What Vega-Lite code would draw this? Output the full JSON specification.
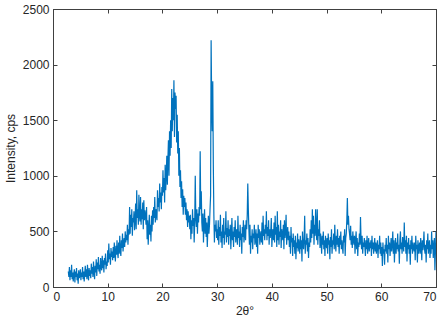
{
"$schema": "https://vega.github.io/schema/vega-lite/v6.json",
"width": 383, "height": 278,
"autosize": {"type": "none"},
"padding": {"left": 53, "top": 9, "right": 8, "bottom": 33},
"background": "white",
"config": {"view": {"stroke": "#404040", "strokeWidth": 1},
  "axis": {"labelFont": "Liberation Sans", "titleFont": "Liberation Sans", "labelFontSize": 12, "titleFontSize": 12, "titleFontWeight": "normal", "labelColor": "#262626", "titleColor": "#262626", "domainColor": "#404040", "tickColor": "#404040", "grid": false, "tickSize": -4, "format": "d"}},
"data": {"values": [
{"x":2.8,"y":140},{"x":2.9,"y":90},
{"x":3.0,"y":180},{"x":3.1,"y":60},{"x":3.2,"y":150},{"x":3.3,"y":90},{"x":3.4,"y":200},{"x":3.5,"y":70},{"x":3.6,"y":130},{"x":3.7,"y":50},{"x":3.8,"y":120},{"x":3.9,"y":160},
{"x":4.0,"y":40},{"x":4.1,"y":140},{"x":4.2,"y":90},{"x":4.3,"y":170},{"x":4.4,"y":60},{"x":4.5,"y":120},{"x":4.6,"y":30},{"x":4.7,"y":150},{"x":4.8,"y":80},{"x":4.9,"y":110},
{"x":5.0,"y":160},{"x":5.1,"y":60},{"x":5.2,"y":130},{"x":5.3,"y":90},{"x":5.4,"y":180},{"x":5.5,"y":70},{"x":5.6,"y":140},{"x":5.7,"y":50},{"x":5.8,"y":120},{"x":5.9,"y":190},
{"x":6.0,"y":90},{"x":6.1,"y":160},{"x":6.2,"y":70},{"x":6.3,"y":200},{"x":6.4,"y":110},{"x":6.5,"y":60},{"x":6.6,"y":170},{"x":6.7,"y":100},{"x":6.8,"y":150},{"x":6.9,"y":80},
{"x":7.0,"y":210},{"x":7.1,"y":120},{"x":7.2,"y":180},{"x":7.3,"y":90},{"x":7.4,"y":230},{"x":7.5,"y":140},{"x":7.6,"y":70},{"x":7.7,"y":190},{"x":7.8,"y":130},{"x":7.9,"y":250},
{"x":8.0,"y":100},{"x":8.1,"y":220},{"x":8.2,"y":160},{"x":8.3,"y":270},{"x":8.4,"y":140},{"x":8.5,"y":200},{"x":8.6,"y":120},{"x":8.7,"y":260},{"x":8.8,"y":180},{"x":8.9,"y":150},
{"x":9.0,"y":280},{"x":9.1,"y":170},{"x":9.2,"y":240},{"x":9.3,"y":130},{"x":9.4,"y":260},{"x":9.5,"y":200},{"x":9.6,"y":300},{"x":9.7,"y":160},{"x":9.8,"y":230},{"x":9.9,"y":190},
{"x":10.0,"y":330},{"x":10.1,"y":220},{"x":10.2,"y":390},{"x":10.3,"y":250},{"x":10.4,"y":300},{"x":10.5,"y":200},{"x":10.6,"y":350},{"x":10.7,"y":270},{"x":10.8,"y":320},{"x":10.9,"y":240},
{"x":11.0,"y":360},{"x":11.1,"y":260},{"x":11.2,"y":400},{"x":11.3,"y":300},{"x":11.4,"y":230},{"x":11.5,"y":370},{"x":11.6,"y":290},{"x":11.7,"y":420},{"x":11.8,"y":310},{"x":11.9,"y":260},
{"x":12.0,"y":400},{"x":12.1,"y":300},{"x":12.2,"y":460},{"x":12.3,"y":330},{"x":12.4,"y":280},{"x":12.5,"y":420},{"x":12.6,"y":350},{"x":12.7,"y":480},{"x":12.8,"y":320},{"x":12.9,"y":390},
{"x":13.0,"y":440},{"x":13.1,"y":360},{"x":13.2,"y":500},{"x":13.3,"y":400},{"x":13.4,"y":470},{"x":13.5,"y":420},{"x":13.6,"y":560},{"x":13.7,"y":380},{"x":13.8,"y":520},{"x":13.9,"y":470},
{"x":14.0,"y":720},{"x":14.1,"y":480},{"x":14.2,"y":650},{"x":14.3,"y":540},{"x":14.4,"y":700},{"x":14.5,"y":460},{"x":14.6,"y":620},{"x":14.7,"y":580},{"x":14.8,"y":680},{"x":14.9,"y":510},
{"x":15.0,"y":600},{"x":15.1,"y":750},{"x":15.2,"y":520},{"x":15.3,"y":870},{"x":15.4,"y":620},{"x":15.5,"y":700},{"x":15.6,"y":560},{"x":15.7,"y":830},{"x":15.8,"y":640},{"x":15.9,"y":590},
{"x":16.0,"y":810},{"x":16.1,"y":560},{"x":16.2,"y":700},{"x":16.3,"y":610},{"x":16.4,"y":760},{"x":16.5,"y":520},{"x":16.6,"y":780},{"x":16.7,"y":600},{"x":16.8,"y":690},{"x":16.9,"y":640},
{"x":17.0,"y":560},{"x":17.1,"y":720},{"x":17.2,"y":430},{"x":17.3,"y":600},{"x":17.4,"y":380},{"x":17.5,"y":520},{"x":17.6,"y":650},{"x":17.7,"y":470},{"x":17.8,"y":560},{"x":17.9,"y":410},
{"x":18.0,"y":640},{"x":18.1,"y":500},{"x":18.2,"y":690},{"x":18.3,"y":560},{"x":18.4,"y":720},{"x":18.5,"y":620},{"x":18.6,"y":810},{"x":18.7,"y":580},{"x":18.8,"y":700},{"x":18.9,"y":660},
{"x":19.0,"y":600},{"x":19.1,"y":870},{"x":19.2,"y":720},{"x":19.3,"y":800},{"x":19.4,"y":680},{"x":19.5,"y":930},{"x":19.6,"y":760},{"x":19.7,"y":850},{"x":19.8,"y":700},{"x":19.9,"y":900},
{"x":20.0,"y":820},{"x":20.1,"y":1050},{"x":20.2,"y":850},{"x":20.3,"y":980},{"x":20.4,"y":760},{"x":20.5,"y":1100},{"x":20.6,"y":870},{"x":20.7,"y":1000},{"x":20.8,"y":1180},{"x":20.9,"y":920},
{"x":21.0,"y":1150},{"x":21.1,"y":1320},{"x":21.2,"y":1000},{"x":21.3,"y":1400},{"x":21.4,"y":1180},{"x":21.5,"y":1500},{"x":21.6,"y":1250},{"x":21.7,"y":1780},{"x":21.8,"y":1400},{"x":21.9,"y":1700},
{"x":22.0,"y":1500},{"x":22.1,"y":1860},{"x":22.2,"y":1350},{"x":22.3,"y":1750},{"x":22.4,"y":1600},{"x":22.5,"y":1720},{"x":22.6,"y":1300},{"x":22.7,"y":1550},{"x":22.8,"y":1200},{"x":22.9,"y":1400},
{"x":23.0,"y":1000},{"x":23.1,"y":1250},{"x":23.2,"y":900},{"x":23.3,"y":1050},{"x":23.4,"y":800},{"x":23.5,"y":950},{"x":23.6,"y":720},{"x":23.7,"y":880},{"x":23.8,"y":650},{"x":23.9,"y":820},
{"x":24.0,"y":720},{"x":24.1,"y":800},{"x":24.2,"y":650},{"x":24.3,"y":760},{"x":24.4,"y":600},{"x":24.5,"y":700},{"x":24.6,"y":540},{"x":24.7,"y":680},{"x":24.8,"y":580},{"x":24.9,"y":640},
{"x":25.0,"y":520},{"x":25.1,"y":650},{"x":25.2,"y":430},{"x":25.3,"y":600},{"x":25.4,"y":480},{"x":25.5,"y":700},{"x":25.6,"y":550},{"x":25.7,"y":620},{"x":25.8,"y":400},{"x":25.9,"y":580},
{"x":26.0,"y":1000},{"x":26.1,"y":620},{"x":26.2,"y":540},{"x":26.3,"y":700},{"x":26.4,"y":480},{"x":26.5,"y":660},{"x":26.6,"y":580},{"x":26.7,"y":720},{"x":26.8,"y":640},{"x":26.9,"y":1220},
{"x":27.0,"y":700},{"x":27.1,"y":860},{"x":27.2,"y":580},{"x":27.3,"y":500},{"x":27.4,"y":660},{"x":27.5,"y":400},{"x":27.6,"y":560},{"x":27.7,"y":700},{"x":27.8,"y":480},{"x":27.9,"y":620},
{"x":28.0,"y":450},{"x":28.1,"y":580},{"x":28.2,"y":360},{"x":28.3,"y":520},{"x":28.4,"y":640},{"x":28.5,"y":480},{"x":28.6,"y":560},{"x":28.7,"y":700},{"x":28.8,"y":820},{"x":28.9,"y":2220},
{"x":29.0,"y":1650},{"x":29.1,"y":1400},{"x":29.2,"y":1850},{"x":29.3,"y":1100},{"x":29.4,"y":650},{"x":29.5,"y":400},{"x":29.6,"y":560},{"x":29.7,"y":500},{"x":29.8,"y":600},{"x":29.9,"y":440},
{"x":30.0,"y":520},{"x":30.1,"y":420},{"x":30.2,"y":600},{"x":30.3,"y":380},{"x":30.4,"y":540},{"x":30.5,"y":460},{"x":30.6,"y":650},{"x":30.7,"y":400},{"x":30.8,"y":500},{"x":30.9,"y":350},
{"x":31.0,"y":560},{"x":31.1,"y":440},{"x":31.2,"y":620},{"x":31.3,"y":380},{"x":31.4,"y":500},{"x":31.5,"y":470},{"x":31.6,"y":680},{"x":31.7,"y":400},{"x":31.8,"y":530},{"x":31.9,"y":450},
{"x":32.0,"y":600},{"x":32.1,"y":380},{"x":32.2,"y":520},{"x":32.3,"y":460},{"x":32.4,"y":560},{"x":32.5,"y":340},{"x":32.6,"y":480},{"x":32.7,"y":620},{"x":32.8,"y":420},{"x":32.9,"y":500},
{"x":33.0,"y":360},{"x":33.1,"y":540},{"x":33.2,"y":450},{"x":33.3,"y":600},{"x":33.4,"y":400},{"x":33.5,"y":480},{"x":33.6,"y":520},{"x":33.7,"y":380},{"x":33.8,"y":640},{"x":33.9,"y":440},
{"x":34.0,"y":500},{"x":34.1,"y":360},{"x":34.2,"y":560},{"x":34.3,"y":420},{"x":34.4,"y":480},{"x":34.5,"y":300},{"x":34.6,"y":540},{"x":34.7,"y":450},{"x":34.8,"y":600},{"x":34.9,"y":400},
{"x":35.0,"y":470},{"x":35.1,"y":560},{"x":35.2,"y":420},{"x":35.3,"y":600},{"x":35.4,"y":520},{"x":35.5,"y":650},{"x":35.6,"y":930},{"x":35.7,"y":700},{"x":35.8,"y":520},{"x":35.9,"y":380},
{"x":36.0,"y":560},{"x":36.1,"y":300},{"x":36.2,"y":460},{"x":36.3,"y":400},{"x":36.4,"y":520},{"x":36.5,"y":340},{"x":36.6,"y":480},{"x":36.7,"y":440},{"x":36.8,"y":560},{"x":36.9,"y":380},
{"x":37.0,"y":420},{"x":37.1,"y":520},{"x":37.2,"y":360},{"x":37.3,"y":480},{"x":37.4,"y":300},{"x":37.5,"y":560},{"x":37.6,"y":440},{"x":37.7,"y":520},{"x":37.8,"y":380},{"x":37.9,"y":460},
{"x":38.0,"y":500},{"x":38.1,"y":400},{"x":38.2,"y":580},{"x":38.3,"y":380},{"x":38.4,"y":640},{"x":38.5,"y":460},{"x":38.6,"y":520},{"x":38.7,"y":420},{"x":38.8,"y":560},{"x":38.9,"y":480},
{"x":39.0,"y":680},{"x":39.1,"y":420},{"x":39.2,"y":540},{"x":39.3,"y":460},{"x":39.4,"y":600},{"x":39.5,"y":380},{"x":39.6,"y":520},{"x":39.7,"y":440},{"x":39.8,"y":500},{"x":39.9,"y":620},
{"x":40.0,"y":360},{"x":40.1,"y":480},{"x":40.2,"y":520},{"x":40.3,"y":420},{"x":40.4,"y":580},{"x":40.5,"y":400},{"x":40.6,"y":640},{"x":40.7,"y":470},{"x":40.8,"y":540},{"x":40.9,"y":360},
{"x":41.0,"y":680},{"x":41.1,"y":420},{"x":41.2,"y":560},{"x":41.3,"y":380},{"x":41.4,"y":500},{"x":41.5,"y":450},{"x":41.6,"y":600},{"x":41.7,"y":350},{"x":41.8,"y":520},{"x":41.9,"y":470},
{"x":42.0,"y":420},{"x":42.1,"y":560},{"x":42.2,"y":340},{"x":42.3,"y":600},{"x":42.4,"y":440},{"x":42.5,"y":500},{"x":42.6,"y":650},{"x":42.7,"y":380},{"x":42.8,"y":480},{"x":42.9,"y":540},
{"x":43.0,"y":420},{"x":43.1,"y":500},{"x":43.2,"y":360},{"x":43.3,"y":460},{"x":43.4,"y":300},{"x":43.5,"y":540},{"x":43.6,"y":400},{"x":43.7,"y":440},{"x":43.8,"y":280},{"x":43.9,"y":480},
{"x":44.0,"y":360},{"x":44.1,"y":420},{"x":44.2,"y":300},{"x":44.3,"y":460},{"x":44.4,"y":250},{"x":44.5,"y":400},{"x":44.6,"y":350},{"x":44.7,"y":480},{"x":44.8,"y":320},{"x":44.9,"y":430},
{"x":45.0,"y":380},{"x":45.1,"y":300},{"x":45.2,"y":460},{"x":45.3,"y":340},{"x":45.4,"y":420},{"x":45.5,"y":230},{"x":45.6,"y":500},{"x":45.7,"y":380},{"x":45.8,"y":340},{"x":45.9,"y":440},
{"x":46.0,"y":640},{"x":46.1,"y":300},{"x":46.2,"y":420},{"x":46.3,"y":380},{"x":46.4,"y":480},{"x":46.5,"y":320},{"x":46.6,"y":440},{"x":46.7,"y":260},{"x":46.8,"y":400},{"x":46.9,"y":360},
{"x":47.0,"y":520},{"x":47.1,"y":400},{"x":47.2,"y":600},{"x":47.3,"y":440},{"x":47.4,"y":700},{"x":47.5,"y":480},{"x":47.6,"y":640},{"x":47.7,"y":380},{"x":47.8,"y":560},{"x":47.9,"y":460},
{"x":48.0,"y":700},{"x":48.1,"y":520},{"x":48.2,"y":420},{"x":48.3,"y":700},{"x":48.4,"y":380},{"x":48.5,"y":520},{"x":48.6,"y":460},{"x":48.7,"y":600},{"x":48.8,"y":350},{"x":48.9,"y":480},
{"x":49.0,"y":420},{"x":49.1,"y":300},{"x":49.2,"y":460},{"x":49.3,"y":380},{"x":49.4,"y":500},{"x":49.5,"y":340},{"x":49.6,"y":420},{"x":49.7,"y":280},{"x":49.8,"y":460},{"x":49.9,"y":390},
{"x":50.0,"y":350},{"x":50.1,"y":440},{"x":50.2,"y":300},{"x":50.3,"y":480},{"x":50.4,"y":380},{"x":50.5,"y":420},{"x":50.6,"y":250},{"x":50.7,"y":450},{"x":50.8,"y":360},{"x":50.9,"y":520},
{"x":51.0,"y":300},{"x":51.1,"y":420},{"x":51.2,"y":380},{"x":51.3,"y":480},{"x":51.4,"y":340},{"x":51.5,"y":560},{"x":51.6,"y":400},{"x":51.7,"y":320},{"x":51.8,"y":460},{"x":51.9,"y":380},
{"x":52.0,"y":520},{"x":52.1,"y":360},{"x":52.2,"y":440},{"x":52.3,"y":300},{"x":52.4,"y":460},{"x":52.5,"y":380},{"x":52.6,"y":500},{"x":52.7,"y":340},{"x":52.8,"y":420},{"x":52.9,"y":360},
{"x":53.0,"y":300},{"x":53.1,"y":460},{"x":53.2,"y":400},{"x":53.3,"y":520},{"x":53.4,"y":280},{"x":53.5,"y":440},{"x":53.6,"y":480},{"x":53.7,"y":600},{"x":53.8,"y":800},{"x":53.9,"y":560},
{"x":54.0,"y":640},{"x":54.1,"y":520},{"x":54.2,"y":480},{"x":54.3,"y":420},{"x":54.4,"y":550},{"x":54.5,"y":380},{"x":54.6,"y":460},{"x":54.7,"y":350},{"x":54.8,"y":500},{"x":54.9,"y":420},
{"x":55.0,"y":380},{"x":55.1,"y":460},{"x":55.2,"y":300},{"x":55.3,"y":420},{"x":55.4,"y":500},{"x":55.5,"y":340},{"x":55.6,"y":440},{"x":55.7,"y":280},{"x":55.8,"y":400},{"x":55.9,"y":360},
{"x":56.0,"y":480},{"x":56.1,"y":380},{"x":56.2,"y":630},{"x":56.3,"y":420},{"x":56.4,"y":340},{"x":56.5,"y":460},{"x":56.6,"y":300},{"x":56.7,"y":400},{"x":56.8,"y":360},{"x":56.9,"y":440},
{"x":57.0,"y":360},{"x":57.1,"y":280},{"x":57.2,"y":420},{"x":57.3,"y":340},{"x":57.4,"y":460},{"x":57.5,"y":300},{"x":57.6,"y":380},{"x":57.7,"y":440},{"x":57.8,"y":320},{"x":57.9,"y":400},
{"x":58.0,"y":350},{"x":58.1,"y":420},{"x":58.2,"y":280},{"x":58.3,"y":460},{"x":58.4,"y":340},{"x":58.5,"y":400},{"x":58.6,"y":300},{"x":58.7,"y":380},{"x":58.8,"y":440},{"x":58.9,"y":320},
{"x":59.0,"y":400},{"x":59.1,"y":300},{"x":59.2,"y":360},{"x":59.3,"y":420},{"x":59.4,"y":260},{"x":59.5,"y":380},{"x":59.6,"y":340},{"x":59.7,"y":460},{"x":59.8,"y":300},{"x":59.9,"y":400},
{"x":60.0,"y":280},{"x":60.1,"y":360},{"x":60.2,"y":190},{"x":60.3,"y":400},{"x":60.4,"y":300},{"x":60.5,"y":340},{"x":60.6,"y":200},{"x":60.7,"y":380},{"x":60.8,"y":320},{"x":60.9,"y":440},
{"x":61.0,"y":300},{"x":61.1,"y":380},{"x":61.2,"y":220},{"x":61.3,"y":460},{"x":61.4,"y":340},{"x":61.5,"y":400},{"x":61.6,"y":280},{"x":61.7,"y":360},{"x":61.8,"y":440},{"x":61.9,"y":320},
{"x":62.0,"y":380},{"x":62.1,"y":500},{"x":62.2,"y":300},{"x":62.3,"y":420},{"x":62.4,"y":220},{"x":62.5,"y":360},{"x":62.6,"y":440},{"x":62.7,"y":300},{"x":62.8,"y":400},{"x":62.9,"y":340},
{"x":63.0,"y":480},{"x":63.1,"y":320},{"x":63.2,"y":380},{"x":63.3,"y":210},{"x":63.4,"y":420},{"x":63.5,"y":500},{"x":63.6,"y":340},{"x":63.7,"y":400},{"x":63.8,"y":300},{"x":63.9,"y":450},
{"x":64.0,"y":380},{"x":64.1,"y":320},{"x":64.2,"y":580},{"x":64.3,"y":360},{"x":64.4,"y":420},{"x":64.5,"y":300},{"x":64.6,"y":460},{"x":64.7,"y":230},{"x":64.8,"y":400},{"x":64.9,"y":340},
{"x":65.0,"y":440},{"x":65.1,"y":300},{"x":65.2,"y":380},{"x":65.3,"y":200},{"x":65.4,"y":420},{"x":65.5,"y":340},{"x":65.6,"y":460},{"x":65.7,"y":300},{"x":65.8,"y":400},{"x":65.9,"y":360},
{"x":66.0,"y":320},{"x":66.1,"y":400},{"x":66.2,"y":240},{"x":66.3,"y":460},{"x":66.4,"y":340},{"x":66.5,"y":380},{"x":66.6,"y":220},{"x":66.7,"y":420},{"x":66.8,"y":300},{"x":66.9,"y":360},
{"x":67.0,"y":400},{"x":67.1,"y":300},{"x":67.2,"y":440},{"x":67.3,"y":360},{"x":67.4,"y":240},{"x":67.5,"y":420},{"x":67.6,"y":330},{"x":67.7,"y":380},{"x":67.8,"y":500},{"x":67.9,"y":340},
{"x":68.0,"y":300},{"x":68.1,"y":380},{"x":68.2,"y":220},{"x":68.3,"y":420},{"x":68.4,"y":340},{"x":68.5,"y":480},{"x":68.6,"y":300},{"x":68.7,"y":360},{"x":68.8,"y":420},{"x":68.9,"y":260},
{"x":69.0,"y":380},{"x":69.1,"y":300},{"x":69.2,"y":500},{"x":69.3,"y":340},{"x":69.4,"y":420},{"x":69.5,"y":260},{"x":69.6,"y":360},{"x":69.7,"y":440},{"x":69.8,"y":150},{"x":69.9,"y":320},
{"x":70.0,"y":500}
]},
"layer": [
 {"mark": {"type": "line", "color": "#0072BD", "strokeWidth": 1.2, "clip": true},
  "encoding": {
   "x": {"field": "x", "type": "quantitative", "scale": {"domain": [0, 70], "nice": false}, "axis": {"title": "2θ°", "values": [0,10,20,30,40,50,60,70], "labelPadding": 8, "titlePadding": 3}},
   "y": {"field": "y", "type": "quantitative", "scale": {"domain": [0, 2500], "nice": false}, "axis": {"title": "Intensity, cps", "values": [0,500,1000,1500,2000,2500], "labelPadding": 8, "titlePadding": 5}}
  }},
 {"mark": {"type": "line", "opacity": 0},
  "encoding": {
   "x": {"field": "x", "type": "quantitative", "axis": {"orient": "top", "labels": false, "title": null, "values": [0,10,20,30,40,50,60,70]}},
   "y": {"field": "y", "type": "quantitative", "axis": {"orient": "right", "labels": false, "title": null, "values": [0,500,1000,1500,2000,2500]}}
  }}
],
"resolve": {"axis": {"x": "independent", "y": "independent"}}
}
